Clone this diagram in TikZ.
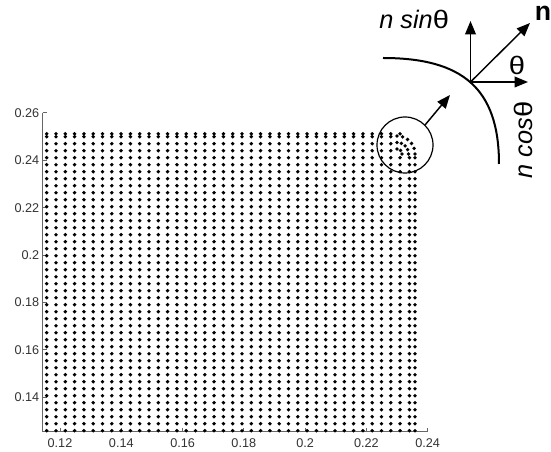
\documentclass[tikz,border=0pt]{standalone}
\usepackage{fontspec}
\usepackage{graphicx}
\setmainfont{Liberation Sans}
\usetikzlibrary{arrows.meta}
\newcommand\wth{\scalebox{1.15}[1]{θ}}
\begin{document}
\begin{tikzpicture}[x=0.75pt,y=-0.75pt,
  axis/.style={draw=black!60, line width=0.6pt},
  ticklbl/.style={font=\fontsize{9.5}{10}\selectfont, text=black!80, inner sep=0pt},
  vec/.style={line width=1.1pt, -{Triangle[length=10pt,width=8pt]}},
  bigarc/.style={line width=1.5pt},
  lbl/.style={font=\fontsize{19}{20}\selectfont, inner sep=0pt}]
\useasboundingbox (0,0) rectangle (551,452);
\fill[white] (0,0) rectangle (551,452);
% axes
\coordinate (yaxTop) at (42.5,112.9);
\coordinate (orig) at (42.5,431.7);
\coordinate (xaxEnd) at (427.7,431.7);
\draw[axis] (yaxTop) -- (orig) -- (xaxEnd);
\foreach \px/\t [count=\k] in {60/0.12,121.3/0.14,182.6/0.16,243.8/0.18,305.1/0.2,366.4/0.22,427.7/0.24}{
  \draw[axis] (\px,431.7) -- (\px,427.7);
  \node[ticklbl] (xl\k) at (\px,443) {\t};
}
\foreach \py/\t [count=\k] in {397.3/0.14,349.9/0.16,302.5/0.18,255.1/0.2,207.7/0.22,160.3/0.24,112.9/0.26}{
  \draw[axis] (42.5,\py) -- (46.5,\py);
  \node[ticklbl, anchor=east] (yl\k) at (39.5,\py) {\t};
}
% particle grid
\foreach \i in {0,...,39}{
  \foreach \j in {0,...,42}{
    \pgfmathsetmacro\xx{46.7+9.3*\i}
    \pgfmathsetmacro\yy{430.7-7.0*\j}
    \pgfmathtruncatemacro\keep{((\xx>397)&&(\yy<154))?0:1}
    \ifnum\keep=1 \fill (\xx,\yy) circle[radius=1.45pt];\fi
  }
}
% boundary column and top row
\foreach \j in {0,...,39}{
  \pgfmathsetmacro\yy{430.7-7.0*\j}
  \fill (415,\yy) circle[radius=1.45pt];
}
\foreach \i in {0,...,38}{
  \pgfmathsetmacro\xx{46.7+9.3*\i}
  \fill (\xx,133.8) circle[radius=1.45pt];
}
% rounded corner
\foreach \r/\n in {18/5,11.5/4,5/2}{
  \foreach \m in {0,...,\n}{
    \pgfmathsetmacro\aa{90*\m/\n}
    \pgfmathsetmacro\xx{397+\r*cos(\aa)}
    \pgfmathsetmacro\yy{154-\r*sin(\aa)}
    \fill (\xx,\yy) circle[radius=1.45pt];
  }
}
% magnifier
\node[draw, circle, line width=0.9pt, minimum size=42pt, inner sep=0pt] (mag) at (405,145) {};
\coordinate (magTip) at (450,95);
\draw[vec] (mag.45) -- (magTip);
% boundary curve
\coordinate (arcA) at (383,58);
\coordinate (arcB) at (499,164);
\draw[bigarc] (arcA) .. controls (462,58) and (499,88) .. (arcB);
% vectors
\coordinate (O) at (470.5,82);
\coordinate (Vup) at (470.5,21);
\coordinate (Vright) at (528,82);
\coordinate (Vn) at (530,23);
\draw[vec] (O) -- (Vup);
\draw[vec] (O) -- (Vright);
\draw[vec] (O) -- (Vn);
% labels
\node[lbl, anchor=base west] (sinlbl) at (379,29) {\itshape n sin\upshape\wth};
\node[lbl, font=\fontsize{20}{21}\selectfont\bfseries, anchor=base] (nlbl) at (543,21) {n};
\node[lbl] (thlbl) at (517,65) {\wth};
\node[lbl, rotate=90] (coslbl) at (523,140) {\itshape n cos\upshape\wth};
\end{tikzpicture}
\end{document}
